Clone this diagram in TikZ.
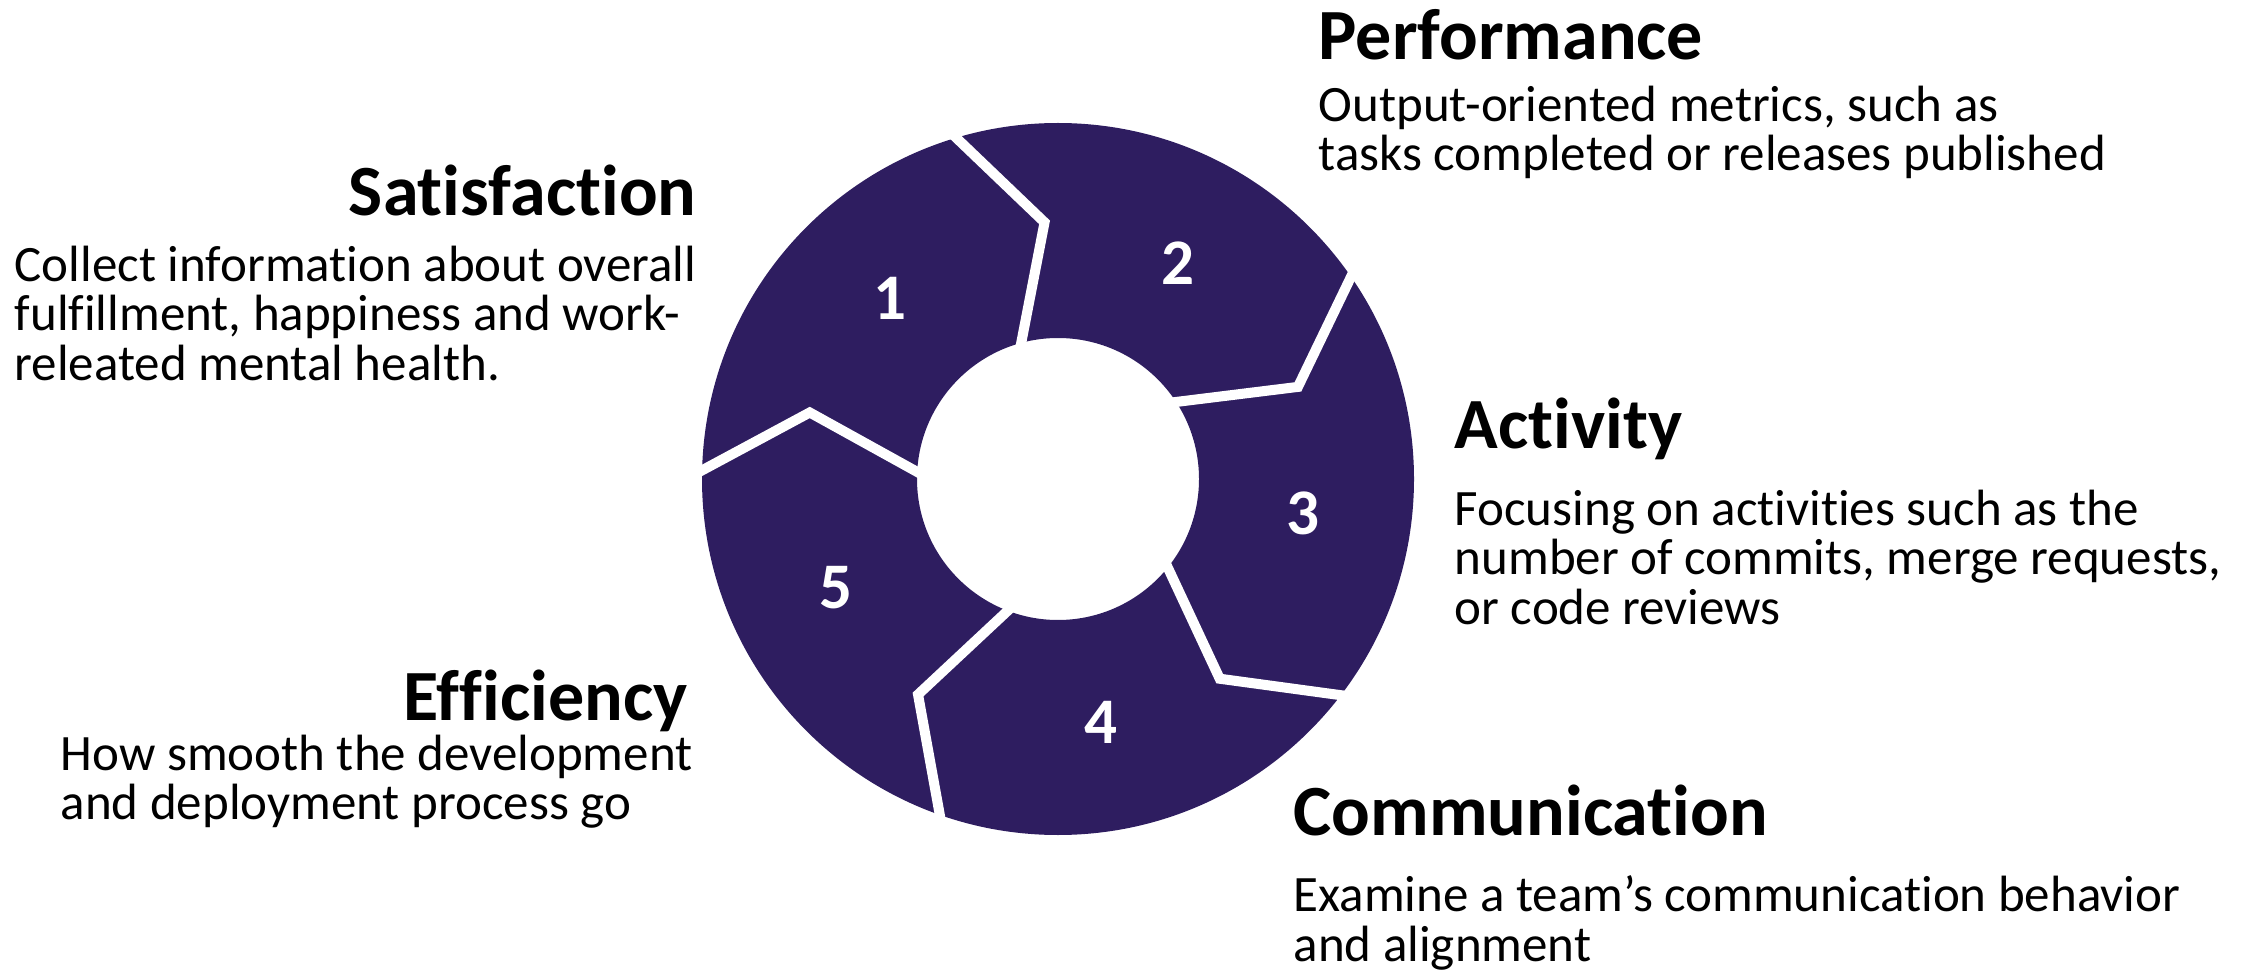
\documentclass[tikz,border=0pt]{standalone}
\usepackage{fontspec}
\setmainfont{Carlito}[Ligatures=NoCommon]
\definecolor{ringpurple}{RGB}{46,29,96}
\tikzset{
  headline/.style={font=\fontsize{20.5}{24}\selectfont\bfseries, inner sep=0pt},
  desc/.style={font=\fontsize{14.5}{14.1}\selectfont, align=left, inner sep=0pt, anchor=north west},
  num/.style={font=\fontsize{18.5}{20}\selectfont\bfseries, text=white},
  gapline/.style={draw=white, line width=2.85pt, line join=miter},
}
\begin{document}
\begin{tikzpicture}[x=0.01cm, y=0.01cm]
    \useasboundingbox (0,0) rectangle (2257,969);
    \begin{scope}[shift={(1058,490)}]
        \fill[ringpurple, even odd rule] (0,0) circle (356) (0,0) circle (141);
        \foreach \a in {180,108,36,-36,-108}
            \draw[gapline] (\a:372) -- ({\a-15}:257) -- (\a:128);
        \foreach \n/\a in {1/133,2/61,3/-8,4/-80,5/-154}
            \node[num] (n\n) at (\a:247) {\n};
    \end{scope}

    \node[headline, anchor=base east] (sat) at (697,753) {Satisfaction};
    \node[desc] (satdesc) at (14,724) {Collect information about overall\\fulfillment, happiness and work-\\releated mental health.};

    \node[headline, anchor=base west] (perf) at (1318,909) {Performance};
    \node[desc] (perfdesc) at (1318,884) {Output-oriented metrics, such as\\tasks completed or releases published};

    \node[headline, anchor=base west] (act) at (1454,520) {Activity};
    \node[desc] (actdesc) at (1454,480) {Focusing on activities such as the\\number of commits, merge requests,\\or code reviews};

    \node[headline, anchor=base east] (eff) at (688,249) {Efficiency};
    \node[desc] (effdesc) at (60,235) {How smooth the development\\and deployment process go};

    \node[headline, anchor=base west] (comm) at (1293,134) {Communication};
    \node[desc] (commdesc) at (1293,94) {Examine a team’s communication behavior\\and alignment};
\end{tikzpicture}
\end{document}
